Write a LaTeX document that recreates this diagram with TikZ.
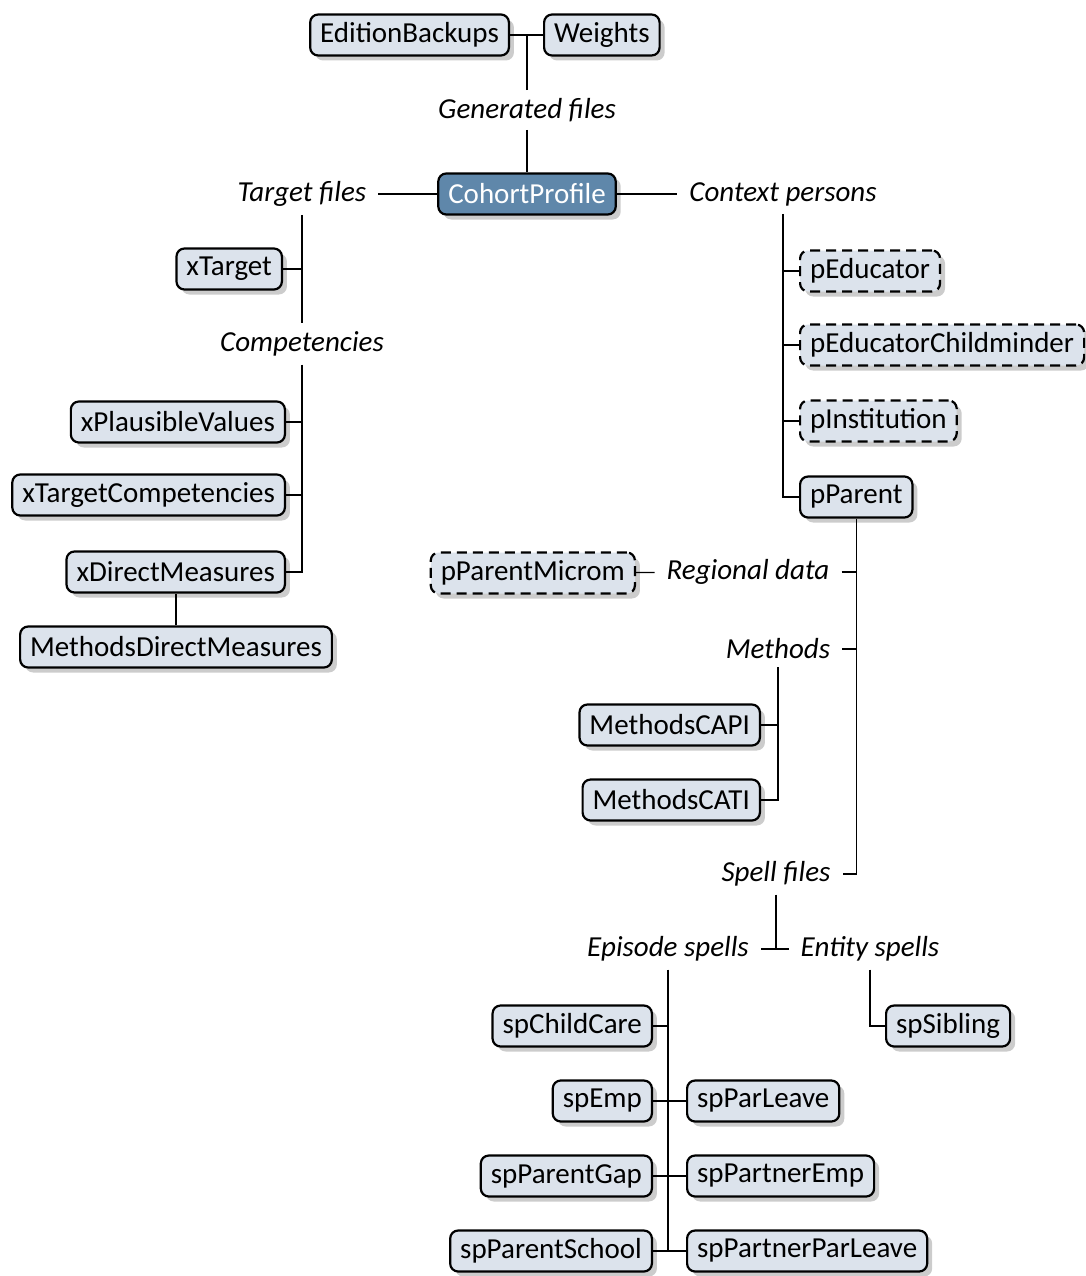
\documentclass[tikz,border=0pt]{standalone}
\usepackage{fontspec}
\setmainfont{Carlito}
\usepackage{tikz}
\usetikzlibrary{shadows, positioning, calc}
\definecolor{boxfill}{HTML}{DCE3EC}
\definecolor{rootfill}{HTML}{5F87AA}

\begin{document}
\begin{tikzpicture}[x=1pt, y=-1pt, font=\fontsize{29}{35}\selectfont]
    \tikzstyle{box} = [rectangle, draw, line width=2.2pt, fill=boxfill, rounded corners=8pt, minimum height=41pt, inner xsep=10pt, drop shadow={shadow xshift=5pt, shadow yshift=-5pt, fill=black!40}]
    \tikzstyle{dbox} = [box, dash pattern=on 10pt off 6pt]
    \tikzstyle{root} = [box, fill=rootfill, text=white]
    \tikzstyle{lbl} = [inner xsep=12pt, inner ysep=8pt, font=\fontsize{29}{35}\selectfont\itshape]
    \tikzstyle{link} = [line width=1.3pt]

    \useasboundingbox (0,0) rectangle (1085,1276);

    % Generated files
    \node[box, anchor=east] (backups) at (510,35) {EditionBackups};
    \node[box, anchor=west] (weights) at (543,35) {Weights};
    \node[lbl] (generated) at (527,110) {Generated files};

    % Root
    \node[root] (cohort) at (527,194) {CohortProfile};
    \node[lbl] (target) at (302,194) {Target files};
    \node[lbl] (context) at (783,194) {Context persons};

    % Target files
    \node[box, anchor=east] (xtarget) at (283,269) {xTarget};
    \node[lbl] (compet) at (302,344) {Competencies};
    \node[box, anchor=east] (plausible) at (286,422) {xPlausibleValues};
    \node[box, anchor=east] (targetcomp) at (286,495) {xTargetCompetencies};
    \node[box, anchor=east] (direct) at (286,572) {xDirectMeasures};
    \node[box] (methdirect) at (176,647) {MethodsDirectMeasures};

    % Context persons
    \node[dbox, anchor=west] (educator) at (799,271) {pEducator};
    \node[dbox, anchor=west] (childminder) at (799,345) {pEducatorChildminder};
    \node[dbox, anchor=west] (institution) at (799,421) {pInstitution};
    \node[box, anchor=west] (parent) at (799,497) {pParent};

    % Parent branches
    \node[lbl] (regional) at (748,572) {Regional data};
    \node[dbox, anchor=east] (microm) at (636,573) {pParentMicrom};
    \node[lbl] (methods) at (778,649) {Methods};
    \node[box, anchor=east] (capi) at (761,725) {MethodsCAPI};
    \node[box, anchor=east] (cati) at (761,800) {MethodsCATI};
    \node[lbl] (spell) at (776,874) {Spell files};

    % Spell files
    \node[lbl] (episode) at (668,949) {Episode spells};
    \node[lbl] (entity) at (870,949) {Entity spells};
    \node[box, anchor=west] (sibling) at (885,1026) {spSibling};
    \node[box, anchor=east] (childcare) at (653,1026) {spChildCare};
    \node[box, anchor=east] (emp) at (653,1101) {spEmp};
    \node[box, anchor=west] (parleave) at (686,1101) {spParLeave};
    \node[box, anchor=east] (parentgap) at (653,1176) {spParentGap};
    \node[box, anchor=west] (partneremp) at (686,1176) {spPartnerEmp};
    \node[box, anchor=east] (parentschool) at (653,1251) {spParentSchool};
    \node[box, anchor=west] (partnerparleave) at (686,1251) {spPartnerParLeave};

    % Connectors
    \draw[link] (backups) -- (weights);
    \draw[link] (generated) -- (generated |- backups);
    \draw[link] (generated) -- (cohort);
    \draw[link] (target) -- (cohort);
    \draw[link] (cohort) -- (context);

    \draw[link] (target) -- (compet);
    \draw[link] (xtarget) -- (xtarget -| target);
    \draw[link] (compet) |- (direct);
    \draw[link] (plausible) -- (plausible -| compet);
    \draw[link] (targetcomp) -- (targetcomp -| compet);
    \draw[link] (methdirect) -- (methdirect |- direct.south);

    \draw[link] (context) |- (parent);
    \foreach \n in {educator, childminder, institution}
        \draw[link] (\n) -- (\n -| context);

    \draw[link] (parent) |- (spell);
    \draw[link] (regional) -- (regional -| parent);
    \draw[link] (methods) -- (methods -| parent);
    \draw[link] (microm) -- (regional);
    \draw[link] (methods) |- (cati);
    \draw[link] (capi) -- (capi -| methods);

    \draw[link] (episode) -- (entity);
    \draw[link] (spell) -- (spell |- entity);
    \draw[link] (entity) |- (sibling);
    \draw[link] (episode) -- (episode |- parentschool);
    \draw[link] (childcare) -- (childcare -| episode);
    \foreach \a/\b in {emp/parleave, parentgap/partneremp, parentschool/partnerparleave}
        \draw[link] (\a) -- (\b);
\end{tikzpicture}
\end{document}
